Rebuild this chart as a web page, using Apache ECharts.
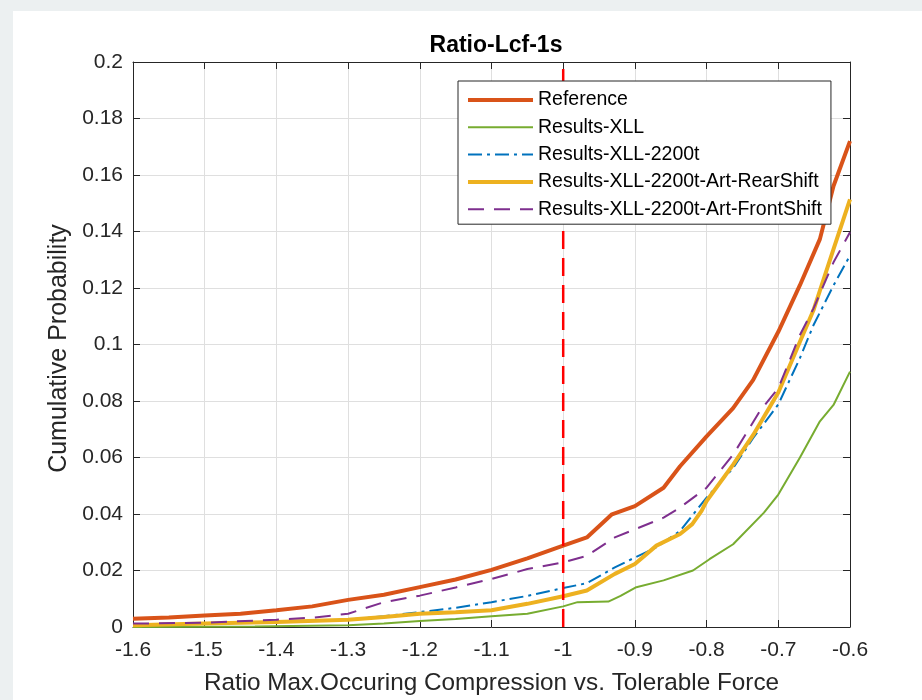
<!DOCTYPE html>
<html>
<head>
<meta charset="utf-8">
<title>Ratio-Lcf-1s</title>
<script src="https://cdn.jsdelivr.net/npm/echarts@6/dist/echarts.min.js"></script>
<style>
	html, body { margin: 0; padding: 0; background: #fff; }
	#main { width: 922px; height: 700px; }
</style>
</head>
<body>
<div id="main"></div>
<script>
// tick labels
var xTicks = ['-1.6', '-1.5', '-1.4', '-1.3', '-1.2', '-1.1', '-1', '-0.9', '-0.8', '-0.7', '-0.6'];
var yTicks = ['0', '0.02', '0.04', '0.06', '0.08', '0.1', '0.12', '0.14', '0.16', '0.18', '0.2'];

var seriesNames = ['Reference', 'Results-XLL', 'Results-XLL-2200t', 'Results-XLL-2200t-Art-RearShift', 'Results-XLL-2200t-Art-FrontShift'];

// [ratio, cumulative probability]
var reference = [[-1.6, 0.0029], [-1.55, 0.0034], [-1.5, 0.0041], [-1.45, 0.0047], [-1.4, 0.0059], [-1.35, 0.0073],
	[-1.3, 0.0096], [-1.25, 0.0114], [-1.2, 0.0141], [-1.15, 0.0168], [-1.1, 0.0202], [-1.05, 0.0243],
	[-1.0, 0.0288], [-0.967, 0.0317], [-0.932, 0.0399], [-0.9, 0.0428], [-0.86, 0.0493], [-0.837, 0.0569],
	[-0.8, 0.0675], [-0.763, 0.0775], [-0.735, 0.0875], [-0.7, 0.1045], [-0.67, 0.1209], [-0.642, 0.1373],
	[-0.623, 0.1561], [-0.6, 0.172]];
var resultsXLL = [[-1.6, 0], [-1.43, 0.0002], [-1.3, 0.0006], [-1.25, 0.0012], [-1.2, 0.0021], [-1.15, 0.0028],
	[-1.1, 0.0038], [-1.05, 0.0047], [-1.0, 0.0073], [-0.98, 0.0088], [-0.937, 0.009], [-0.92, 0.011],
	[-0.898, 0.0141], [-0.86, 0.0165], [-0.819, 0.02], [-0.796, 0.024], [-0.763, 0.0293], [-0.72, 0.0405],
	[-0.7, 0.0469], [-0.67, 0.0599], [-0.642, 0.0728], [-0.623, 0.0786], [-0.6, 0.0904]];
var results2200t = [[-1.6, 0.0006], [-1.5, 0.0012], [-1.4, 0.0018], [-1.3, 0.0026], [-1.25, 0.0038], [-1.2, 0.0053],
	[-1.15, 0.0068], [-1.1, 0.0088], [-1.05, 0.011], [-1.0, 0.0138], [-0.967, 0.0155], [-0.928, 0.0211],
	[-0.9, 0.0246], [-0.87, 0.0282], [-0.837, 0.034], [-0.8, 0.0458], [-0.763, 0.0563], [-0.735, 0.0669],
	[-0.7, 0.0788], [-0.67, 0.0951], [-0.651, 0.1068], [-0.623, 0.1209], [-0.6, 0.1315]];
var rearShift = [[-1.6, 0.0006], [-1.5, 0.0012], [-1.4, 0.0018], [-1.3, 0.0026], [-1.25, 0.0035], [-1.2, 0.0047],
	[-1.15, 0.0052], [-1.1, 0.0059], [-1.05, 0.0082], [-1.0, 0.0109], [-0.967, 0.0129], [-0.928, 0.0188],
	[-0.9, 0.0223], [-0.87, 0.0288], [-0.837, 0.0329], [-0.82, 0.0364], [-0.807, 0.0411], [-0.8, 0.0446],
	[-0.763, 0.0575], [-0.735, 0.068], [-0.7, 0.083], [-0.67, 0.1009], [-0.651, 0.1121], [-0.623, 0.1338],
	[-0.6, 0.1514]];
var frontShift = [[-1.6, 0.0012], [-1.5, 0.0015], [-1.4, 0.0026], [-1.35, 0.0033], [-1.3, 0.0047], [-1.25, 0.0088],
	[-1.2, 0.0111], [-1.15, 0.014], [-1.1, 0.017], [-1.05, 0.0205], [-1.0, 0.0229], [-0.967, 0.0252],
	[-0.928, 0.0317], [-0.9, 0.0346], [-0.86, 0.0387], [-0.837, 0.0423], [-0.8, 0.0493], [-0.763, 0.061],
	[-0.726, 0.0763], [-0.7, 0.0845], [-0.67, 0.1033], [-0.651, 0.1127], [-0.623, 0.1291], [-0.6, 0.1397]];
// limit line
var limitLine = [[-1.0, 0], [-1.0, 0.2]];

var font = 'Liberation Sans, Arial, sans-serif';
var ink = '#262626';
var colors = ['#D95319', '#77AC30', '#0072BD', '#EDB120', '#7E2F8E'];
var widths = [4, 2, 2, 4, 2];
var dashes = ['solid', 'solid', [14, 5, 3, 5], 'solid', [16, 10]];

var myChart = echarts.init(document.getElementById('main'));

function boxAxis(pos, isX) {
	return {
		type: 'value',
		position: pos,
		min: isX ? -1.6 : 0,
		max: isX ? -0.6 : 0.2,
		interval: isX ? 0.1 : 0.02,
		axisLine: { show: true, onZero: false, lineStyle: { color: ink, width: 1 } },
		axisTick: { show: true, inside: true, length: 7, lineStyle: { color: ink } },
		axisLabel: { show: false },
		splitLine: { show: false }
	};
}

var legendData = seriesNames.map(function(n, i) {
	return { name: n, lineStyle: { color: colors[i], width: widths[i], type: dashes[i] } };
});

var seriesData = [reference, resultsXLL, results2200t, rearShift, frontShift];
var series = seriesData.map(function(d, i) {
	return {
		name: seriesNames[i],
		type: 'line',
		data: d,
		symbol: 'none',
		color: colors[i],
		lineStyle: { color: colors[i], width: widths[i], type: dashes[i] }
	};
});
series.push({
	name: 'limit',
	type: 'line',
	data: limitLine,
	symbol: 'none',
	color: '#ff0000',
	lineStyle: { color: '#ff0000', width: 2.5, type: [18, 9] },
	z: 3
});

var option = {
	animation: false,
	backgroundColor: '#fff',
	graphic: [
		{ type: 'rect', left: 0, top: 0, shape: { width: 922, height: 11 }, style: { fill: '#ecf0f1' }, silent: true },
		{ type: 'rect', left: 0, top: 0, shape: { width: 13, height: 700 }, style: { fill: '#ecf0f1' }, silent: true }
	],
	title: {
		text: 'Ratio-Lcf-1s',
		left: 491,
		top: 29,
		textAlign: 'center',
		textStyle: { fontFamily: font, fontSize: 23, fontWeight: 'bold', color: '#000' }
	},
	grid: { left: 133, top: 62, width: 717, height: 568, containLabel: false },
	legend: {
		orient: 'vertical',
		left: 458,
		top: 81,
		padding: [9, 9, 5, 8],
		itemWidth: 65,
		itemHeight: 14,
		itemGap: 7.3,
		backgroundColor: '#fff',
		borderColor: ink,
		borderWidth: 1,
		borderRadius: 0,
		itemStyle: { opacity: 0, borderWidth: 0 },
		data: legendData,
		textStyle: { fontFamily: font, fontSize: 19.5, lineHeight: 19, color: '#000' }
	},
	xAxis: [{
		type: 'value',
		position: 'bottom',
		min: -1.6,
		max: -0.6,
		interval: 0.1,
		name: 'Ratio Max.Occuring Compression vs. Tolerable Force',
		nameLocation: 'middle',
		nameGap: 44,
		nameTextStyle: { fontFamily: font, fontSize: 24.3, color: ink },
		axisLine: { onZero: false, lineStyle: { color: ink, width: 1 } },
		axisTick: { inside: true, length: 7, lineStyle: { color: ink } },
		axisLabel: {
			margin: 13,
			fontFamily: font,
			fontSize: 21,
			color: ink,
			formatter: function(v) { return xTicks[Math.round((v + 1.6) * 10)]; }
		},
		splitLine: { show: true, lineStyle: { color: '#dfdfdf', width: 1 } }
	}, boxAxis('top', true)],
	yAxis: [{
		type: 'value',
		position: 'left',
		min: 0,
		max: 0.2,
		interval: 0.02,
		name: 'Cumulative Probability',
		nameLocation: 'middle',
		nameGap: 60,
		nameTextStyle: { fontFamily: font, fontSize: 25, color: ink, padding: [0, 8, 0, 0] },
		axisLine: { show: true, onZero: false, lineStyle: { color: ink, width: 1 } },
		axisTick: { show: true, inside: true, length: 7, lineStyle: { color: ink } },
		axisLabel: {
			margin: 10,
			fontFamily: font,
			fontSize: 21,
			color: ink,
			formatter: function(v) { return yTicks[Math.round(v * 50)]; }
		},
		splitLine: { show: true, lineStyle: { color: '#dfdfdf', width: 1 } }
	}, boxAxis('right', false)],
	series: series
};

myChart.setOption(option);
</script>
</body>
</html>
